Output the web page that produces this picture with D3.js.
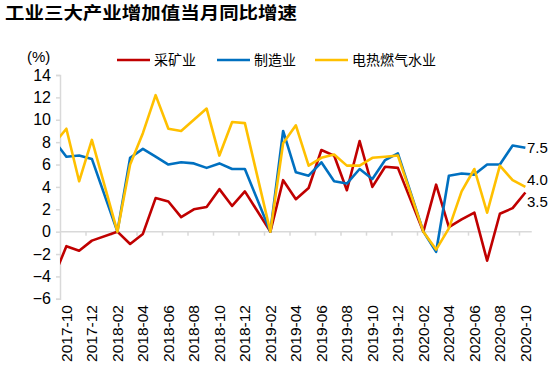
<!DOCTYPE html>
<html><head><meta charset="utf-8">
<script src="https://cdn.jsdelivr.net/npm/d3@7"></script>
<style>
html,body{margin:0;padding:0;background:#fff;}
svg{display:block;}
</style></head>
<body>
<script>
const title = "工业三大产业增加值当月同比增速";
const unitLabel = "(%)";
const months = ["2017-09","2017-10","2017-11","2017-12",
"2018-01","2018-02","2018-03","2018-04","2018-05","2018-06","2018-07","2018-08","2018-09","2018-10","2018-11","2018-12",
"2019-01","2019-02","2019-03","2019-04","2019-05","2019-06","2019-07","2019-08","2019-09","2019-10","2019-11","2019-12",
"2020-01","2020-02","2020-03","2020-04","2020-05","2020-06","2020-07","2020-08","2020-09","2020-10"];
const seriesNames = ["采矿业","制造业","电热燃气水业"];
const mining = [-4.1,-1.3,-1.7,-0.8,null,0,-1.1,-0.2,3.0,2.7,1.3,2.0,2.2,3.8,2.3,3.6,null,0,4.6,2.9,3.9,7.3,6.8,3.7,8.1,4.0,5.8,5.7,null,0,4.2,0.4,1.1,1.7,-2.6,1.6,2.1,3.5];
const manufacturing = [8.2,6.7,6.8,6.5,null,0,6.6,7.4,6.7,6.0,6.2,6.1,5.7,6.1,5.6,5.6,null,0,9.0,5.3,5.0,6.2,4.5,4.3,5.6,4.7,6.4,7.0,null,0,-1.8,5.0,5.2,5.1,6.0,6.0,7.7,7.5];
const utilities = [7.8,9.2,4.5,8.2,null,0,6.0,8.8,12.2,9.2,9.0,10.0,11.0,6.8,9.8,9.7,null,0,7.9,9.5,5.9,6.6,6.9,5.9,5.9,6.6,6.7,6.8,null,0,-1.6,0.3,3.6,5.6,1.7,5.9,4.6,4.0];
const yTicks = [-6,-4,-2,0,2,4,6,8,10,12,14];
const xTickLabels = ["2017-10","2017-12","2018-02","2018-04","2018-06","2018-08","2018-10","2018-12",
"2019-02","2019-04","2019-06","2019-08","2019-10","2019-12","2020-02","2020-04","2020-06","2020-08","2020-10"];
const firstMonth = "2017-10", lastMonth = "2020-10";
const colors = ["#C00000","#0070C0","#FFC000"];

const W = 550, H = 366;
const m = {left:60, right:18.25, top:75, bottom:67.2};
const svg = d3.select("body").append("svg").attr("width",W).attr("height",H);

const mi = s => { const [y,mo] = s.split("-").map(Number); return y*12 + mo - 1; };
const x = d3.scaleLinear().domain([mi(firstMonth)-0.5, mi(lastMonth)+0.5]).range([m.left, W-m.right]);
const y = d3.scaleLinear().domain([-6,14]).range([H-m.bottom, m.top]);

const axisColor = "#D9D9D9";
const font = "'Liberation Sans', Arial, sans-serif";
const cjk = "'Noto Sans CJK SC', sans-serif";

// title
svg.append("text").attr("x",5).attr("y",19).text(title)
  .attr("font-family",cjk).attr("font-weight","bold").attr("font-size",17)
  .attr("textLength",292).attr("lengthAdjust","spacingAndGlyphs").attr("fill","#000");

svg.append("text").attr("x",27).attr("y",62).text(unitLabel)
  .attr("font-family",font).attr("font-size",15).attr("fill","#000");

// y axis
const yAxis = svg.append("g").attr("transform",`translate(${m.left},0)`)
  .call(d3.axisLeft(y).tickValues(yTicks).tickSize(4).tickPadding(5).tickFormat(d3.format("d")));
yAxis.select(".domain").attr("stroke",axisColor).attr("stroke-width",1.5);
yAxis.selectAll(".tick line").attr("stroke",axisColor).attr("stroke-width",1.5);
yAxis.selectAll(".tick text").attr("font-family",font).attr("font-size",16).attr("fill","#000");

// x axis line at zero
const boundaryTicks = xTickLabels.slice(1).map(s => mi(s)-0.5);
const xAxis = svg.append("g").attr("transform",`translate(0,${y(0)})`)
  .call(d3.axisBottom(x).tickValues(boundaryTicks).tickSize(4).tickFormat(""));
xAxis.select(".domain").attr("stroke",axisColor).attr("stroke-width",1.5).attr("d",`M${m.left},0H${W-m.right}`);
xAxis.selectAll(".tick line").attr("stroke",axisColor).attr("stroke-width",1.5);

// x labels at bottom
svg.append("g").selectAll("text").data(xTickLabels).join("text")
  .attr("transform", d => `translate(${x(mi(d))+5.5},${H-61}) rotate(-90)`)
  .attr("text-anchor","end").text(d => d)
  .attr("font-family",font).attr("font-size",15).attr("fill","#000")
  .attr("textLength",57).attr("lengthAdjust","spacingAndGlyphs");

// clip
svg.append("clipPath").attr("id","plot").append("rect")
  .attr("x",m.left).attr("y",0).attr("width",W-m.left).attr("height",H);

const series = [mining, manufacturing, utilities];
const line = d3.line().x(d => x(mi(d.m))).y(d => y(d.v));
series.forEach((vals,i) => {
  const pts = months.map((mo,j) => ({m:mo, v:vals[j]})).filter(d => d.v !== null);
  svg.append("path").datum(pts).attr("d",line).attr("fill","none")
    .attr("stroke",colors[i]).attr("stroke-width",2.6).attr("stroke-linejoin","round")
    .attr("clip-path","url(#plot)");
});

// end labels (nudged apart vertically as in the original)
const endNudge = [9.5, 0, -7.5];
series.forEach((vals,i) => {
  const v = vals[vals.length-1];
  svg.append("text").attr("x", x(mi(lastMonth))+1.5).attr("y", y(v)+5.5+endNudge[i])
    .text(d3.format(".1f")(v)).attr("font-family",font).attr("font-size",15).attr("fill","#000");
});

// legend
const legendX = [117, 217, 315];
seriesNames.forEach((n,i) => {
  svg.append("line").attr("x1",legendX[i]).attr("x2",legendX[i]+33).attr("y1",60).attr("y2",60)
    .attr("stroke",colors[i]).attr("stroke-width",2.6);
  svg.append("text").attr("x",legendX[i]+37).attr("y",65).text(n)
    .attr("font-family",cjk).attr("font-size",14).attr("fill","#000");
});
</script>
</body></html>
